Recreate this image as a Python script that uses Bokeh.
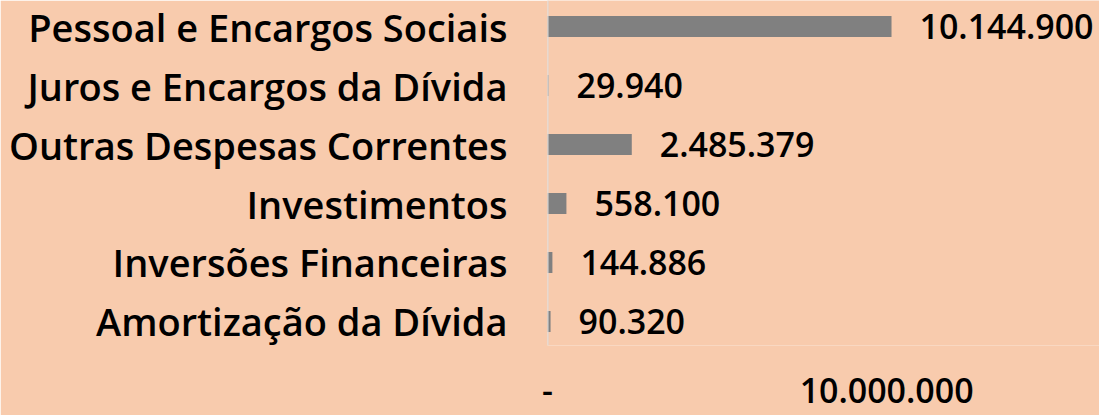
from bokeh.plotting import figure
from bokeh.models import Range1d, FixedTicker, Span, ColumnDataSource
from bokeh.core.properties import value
from bokeh.embed import file_html
from bokeh.resources import INLINE

categories = ["Pessoal e Encargos Sociais", "Juros e Encargos da Dívida",
              "Outras Despesas Correntes", "Investimentos",
              "Inversões Financeiras", "Amortização da Dívida"]
values = [10144900, 29940, 2485379, 558100, 144886, 90320]
x_ticks = [0, 10000000]
x_tick_labels = ["-", "10.000.000"]

FONT = "Open Sans SemiBold, Open Sans"
CAT_SIZE = "38px"
NUM_SIZE = "34px"
BG = "#F8CBAD"

n = len(categories)
ypos = [n - 1 - i for i in range(n)]
labels = [f"{v:,}".replace(",", ".") for v in values]

src = ColumnDataSource(dict(y=ypos, v=values, lab=labels))

p = figure(width=1099, height=415, output_backend="svg", toolbar_location=None,
           x_range=Range1d(0, 16278000), y_range=Range1d(-0.407, 5.441),
           min_border_left=547, min_border_right=0, min_border_top=0,
           min_border_bottom=70)
p.background_fill_color = BG
p.border_fill_color = BG
p.outline_line_color = None
p.grid.visible = False

p.hbar(y="y", right="v", left=0, height=0.356, source=src,
       fill_color="#808080", line_color=None)

p.add_layout(Span(location=0, dimension="height", line_color="#D9D9D9", line_width=2))

p.text(x="v", y="y", text="lab", source=src, x_offset=28,
       text_align="left", text_baseline="middle",
       text_font=value(FONT), text_font_size=NUM_SIZE,
       text_color="black")

ya = p.yaxis[0]
ya.ticker = FixedTicker(ticks=ypos)
ya.major_label_overrides = {y: c for y, c in zip(ypos, categories)}
ya.axis_line_color = None
ya.major_tick_line_color = None
ya.minor_tick_line_color = None
ya.major_tick_out = 0
ya.major_tick_in = 0
ya.major_label_standoff = 40
ya.major_label_text_font = FONT
ya.major_label_text_font_size = CAT_SIZE
ya.major_label_text_color = "black"

xa = p.xaxis[0]
xa.ticker = FixedTicker(ticks=x_ticks)
xa.major_label_overrides = {t: l for t, l in zip(x_ticks, x_tick_labels)}
xa.axis_line_color = None
xa.major_tick_line_color = None
xa.minor_tick_line_color = None
xa.major_tick_out = 0
xa.major_tick_in = 0
xa.major_label_standoff = 32
xa.major_label_text_font = FONT
xa.major_label_text_font_size = NUM_SIZE
xa.major_label_text_color = "black"

open("out.html", "w").write(file_html(p, INLINE))
